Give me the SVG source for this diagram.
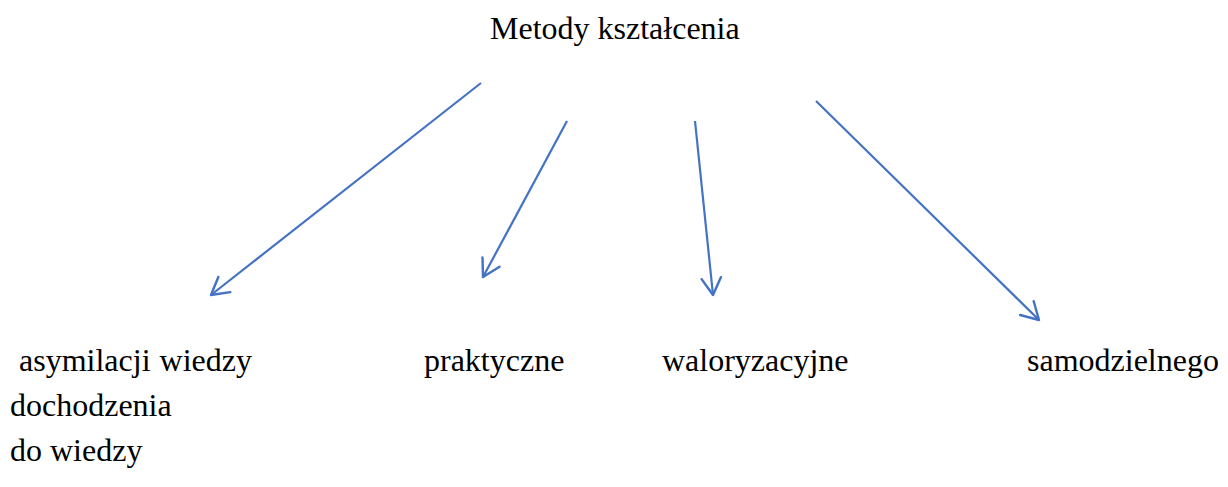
<svg xmlns="http://www.w3.org/2000/svg" width="1228" height="487" viewBox="0 0 1228 487">
<style>
text{font-family:"Liberation Serif","Times New Roman",serif;font-size:32px;fill:#000}
.c line{stroke:#4472C4;stroke-width:2.2;fill:none;marker-end:url(#ah)}
</style>
<defs>
<marker id="ah" viewBox="0 0 20 20" refX="16" refY="10" markerWidth="11" markerHeight="11" markerUnits="strokeWidth" orient="auto">
<path d="M2,2 L16,10 L2,18" fill="none" stroke="#4472C4" stroke-width="2" stroke-linecap="round" stroke-linejoin="round"/>
</marker>
</defs>
<rect width="1228" height="487" fill="#fff"/>
<g id="root"><text x="490" y="39">Metody kształcenia</text></g>
<g class="c" id="connectors">
<line x1="481" y1="83" x2="211" y2="295"/>
<line x1="567" y1="121" x2="483" y2="277"/>
<line x1="695" y1="121" x2="713" y2="295"/>
<line x1="816" y1="101" x2="1039" y2="320"/>
</g>
<g id="n1"><text x="19" y="371" word-spacing="1">asymilacji wiedzy</text></g>
<g id="n2"><text x="424" y="371">praktyczne</text></g>
<g id="n3"><text x="662" y="371">waloryzacyjne</text></g>
<g id="n4"><text x="1027" y="371">samodzielnego</text></g>
<g id="n4b"><text x="10" y="416">dochodzenia</text><text x="10" y="461">do wiedzy</text></g>
</svg>
